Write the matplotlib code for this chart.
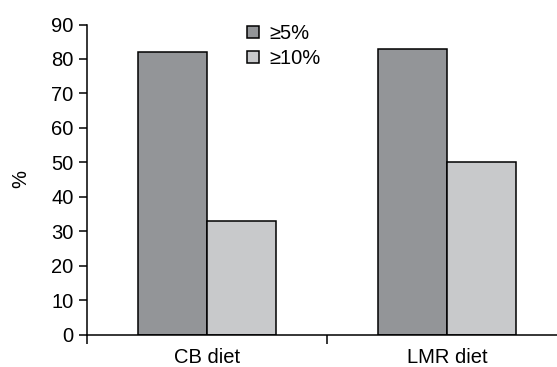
import matplotlib
matplotlib.use("Agg")
import matplotlib.pyplot as plt
import numpy as np

categories = ["CB diet", "LMR diet"]
series_labels = ["≥5%", "≥10%"]
vals_5 = [82, 83]
vals_10 = [33, 50]
yticks = [0, 10, 20, 30, 40, 50, 60, 70, 80, 90]

plt.rcParams['font.family'] = ['Liberation Sans', 'DejaVu Sans']

fig = plt.figure(figsize=(5.57, 3.67), dpi=100)
W, H = 557, 367
ax = fig.add_axes([87 / W, (367 - 334.5) / H, 480 / W, 310 / H])

x = np.arange(len(categories))
bw = 0.2875
ax.bar(x - bw / 2, vals_5, bw, color="#939598", edgecolor="black", linewidth=1.1, label=series_labels[0])
ax.bar(x + bw / 2, vals_10, bw, color="#c8c9cb", edgecolor="black", linewidth=1.1, label=series_labels[1])

fs = 14.5
ax.set_xlim(-0.5, 1.5)
ax.set_ylim(0, 90)
ax.set_yticks(yticks)
ax.set_xticks(x)
ax.set_xticklabels(categories, fontsize=fs)
ax.set_xticks([-0.5, 0.5, 1.5], minor=True)
ax.tick_params(axis='x', which='major', length=0, pad=9.5)
ax.tick_params(axis='x', which='minor', length=6.5, width=1.1, direction='out')
ax.tick_params(axis='y', length=5.8, width=1.1, labelsize=fs, pad=4)
for s in ['left', 'bottom']:
    ax.spines[s].set_linewidth(1.1)
ax.spines['top'].set_visible(False)
ax.spines['right'].set_visible(False)
ax.set_ylabel("%", fontsize=fs)
ax.yaxis.set_label_coords((30 - 87) / 480, 0.5)

leg = ax.legend(loc='upper left', bbox_to_anchor=(247 / W, 1 - 24 / H), bbox_transform=fig.transFigure,
                frameon=False, fontsize=fs, handlelength=0.6, handleheight=0.6,
                handletextpad=0.5, labelspacing=0.3, borderaxespad=0, borderpad=0)

fig.savefig("out.png", dpi=100)
